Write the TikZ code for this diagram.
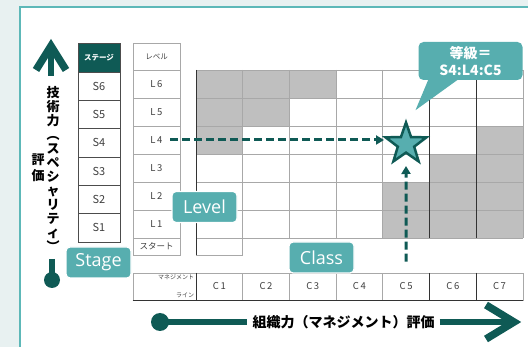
\documentclass[tikz,border=0pt]{standalone}
\usepackage{fontspec}
\setmainfont{Noto Sans CJK JP}
\newfontfamily\tagfont{Open Sans}
\usetikzlibrary{arrows.meta,shapes.geometric,positioning}

\definecolor{bgcol}{HTML}{E8F1F1}
\definecolor{framecol}{HTML}{5DB8B8}
\definecolor{darkteal}{HTML}{0F5A55}
\definecolor{tealbox}{HTML}{57AEAF}
\definecolor{cellgray}{HTML}{BFBFBF}
\definecolor{linegray}{HTML}{A8A8A8}
\definecolor{textgray}{HTML}{404040}

\tikzset{
  stagecell/.style={draw=black!70, line width=0.8pt, minimum width=42pt, minimum height=28.3pt, inner sep=0pt, font=\fontsize{11}{11}\selectfont, text=textgray},
  levelcell/.style={draw=linegray, line width=0.8pt, minimum width=47pt, minimum height=28pt, inner sep=0pt, font=\fontsize{9.5}{9.5}\selectfont, text=textgray},
  classcell/.style={draw=linegray, line width=0.8pt, minimum width=46.7pt, minimum height=27pt, inner sep=0pt, font=\fontsize{9.5}{9.5}\selectfont, text=textgray},
  gridline/.style={linegray, line width=0.8pt},
  darkline/.style={black!80, line width=0.9pt},
  tag/.style={fill=tealbox, draw=white, line width=1.2pt, rounded corners=4pt, text=white, font=\tagfont\fontsize{18}{18}\selectfont, minimum width=65pt, minimum height=31pt, inner sep=0pt},
  dasharrow/.style={darkteal, line width=3pt, dash pattern=on 8pt off 4pt, -{Triangle[length=8pt,width=9pt]}},
  axisline/.style={darkteal, line width=6.5pt},
  chevron/.style={darkteal, line width=7.5pt, line join=miter},
  axistext/.style={font=\bfseries\fontsize{14}{14}\selectfont, inner sep=1pt},
}

\begin{document}
\begin{tikzpicture}[x=1pt,y=-1pt]
  \useasboundingbox (0,0) rectangle (528,347);
  \fill[bgcol] (0,0) rectangle (528,347);
  \draw[framecol, line width=2pt, fill=white] (20,7) rectangle (545,365);

  \foreach \r/\c in {1/1,1/2,1/3,2/1,2/2,3/1,3/7,4/6,4/7,5/5,5/6,5/7,6/5,6/6,6/7}
    \fill[cellgray] ({196+46.7*(\c-1)},{70+28*(\r-1)}) rectangle ++(46.7,28);
  \foreach \c in {1,...,7}
    \draw[gridline] ({196+46.7*\c},70) -- ({196+46.7*\c},238);
  \foreach \r in {0,...,6}
    \draw[gridline] (196,{70+28*\r}) -- (523,{70+28*\r});
  \draw[gridline] (196,255) -- (242.7,255) -- (242.7,238);
  \draw[darkline] (196,70) -- (196,255);
  \draw[darkline] (429.5,70) -- (429.5,238);
  \draw[darkline] (476.2,70) -- (476.2,238);

  \node[stagecell, fill=darkteal, text=white, minimum height=29pt, font=\bfseries\fontsize{7.5}{7.5}\selectfont] (stagehead) at (99,57.5) {ステージ};
  \foreach \s [count=\k] in {6,5,4,3,2,1}
    \node[stagecell] (s\s) at (99,{72+28.33*(\k-0.5)}) {S\s};

  \node[levelcell, minimum height=27pt, font=\fontsize{7.5}{7.5}\selectfont] (levelhead) at (156.5,56.5) {レベル};
  \foreach \l [count=\k] in {6,5,4,3,2,1}
    \node[levelcell] (l\l) at (156.5,{70+28*(\k-0.5)}) {L\,\l};
  \node[levelcell, minimum height=17pt, font=\fontsize{8.5}{8.5}\selectfont] (start) at (156.5,246.5) {スタート};

  \node[classcell, minimum width=63pt] (mgmt) at (164.5,286.5) {};
  \node[anchor=north east, inner sep=1pt, font=\fontsize{6}{6}\selectfont, text=textgray] (mgmtup) at ([xshift=-1pt,yshift=-1pt]mgmt.north east) {マネジメント};
  \node[anchor=south east, inner sep=1pt, font=\fontsize{6}{6}\selectfont, text=textgray] (mgmtdown) at ([xshift=-1pt,yshift=1pt]mgmt.south east) {ライン};
  \foreach \c in {1,...,7}
    \node[classcell] (c\c) at ({196+46.7*(\c-0.5)},286.5) {C\,\c};
  \draw[darkline] (196,273) -- (196,300);
  \draw[darkline] (429.5,273) -- (429.5,300);
  \draw[darkline] (476.2,273) -- (476.2,300);
  \draw[darkline] (mgmt.south west) -- (c7.south east);

  \node[star, star points=5, star point ratio=2.5, minimum size=43pt, inner sep=0pt, fill=tealbox, draw=darkteal, line width=2.5pt] (grade) at (406,144) {};
  \draw[dasharrow] ([xshift=-10pt]l4.east) -- ([xshift=-22pt,yshift=4pt]grade.center);
  \draw[dasharrow] ([yshift=11pt]c5.north) -- ([yshift=-22pt]grade.center);

  \node[fill=tealbox, rounded corners=5pt, text=white, align=center, minimum width=104pt, minimum height=38pt, inner sep=0pt, font=\bfseries\fontsize{14}{17}\selectfont] (callout) at (470.5,61) {等級＝\\S4:L4:C5};
  \fill[tealbox] ([xshift=-42pt,yshift=1pt]callout.south) -- ([xshift=-12pt,yshift=1pt]callout.south) -- ([xshift=-55pt,yshift=-30pt]callout.south) -- cycle;

  \node[tag] (level) at (204.5,207) {Level};
  \node[tag] (stage) at (98.5,262.5) {Stage};
  \node[tag] (class) at (321.5,257.5) {Class};

  \coordinate (ytail) at (51,76);
  \coordinate (yhead) at (51,46);
  \draw[axisline] (ytail) -- (yhead);
  \draw[chevron] ([xshift=-15pt,yshift=-24pt]yhead) -- (yhead) -- ([xshift=15pt,yshift=-24pt]yhead);
  \node[axistext, align=center, font=\bfseries\fontsize{13}{14}\selectfont] (techtext) at (53,168.5) {技\\術\\力\\︵\\ス\\ペ\\シ\\ャ\\リ\\テ\\ィ\\︶};
  \node[axistext, align=center, font=\bfseries\fontsize{13}{16}\selectfont] (evaltext) at (38,168) {評\\価};
  \coordinate (ybar) at (52,259);
  \coordinate (ydot) at (52,280);
  \draw[axisline] (ybar) -- (ydot);
  \fill[darkteal] (ydot) circle (8);

  \node[axistext] (mgmttext) at (343.5,322) {組織力（マネジメント）評価};
  \coordinate (xdot) at (160,322);
  \coordinate (xhead) at (514,322);
  \fill[darkteal] (xdot) circle (9);
  \draw[axisline] (xdot) -- ([xshift=-4pt]mgmttext.west);
  \draw[axisline] ([xshift=4pt]mgmttext.east) -- (xhead);
  \draw[chevron] ([xshift=-28pt,yshift=17pt]xhead) -- (xhead) -- ([xshift=-28pt,yshift=-17pt]xhead);
\end{tikzpicture}
\end{document}
